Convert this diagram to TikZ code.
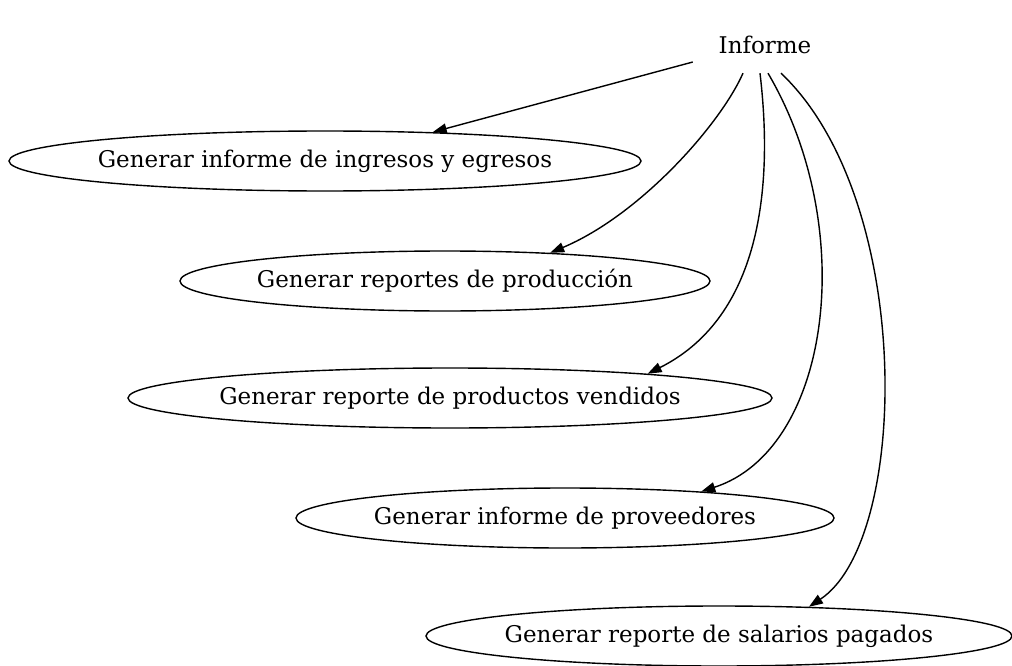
\documentclass[tikz,border=0pt]{standalone}
\usepackage{fontspec}
\setmainfont{DejaVu Serif}
\usetikzlibrary{shapes.geometric,arrows.meta}
\begin{document}
\begin{tikzpicture}[x=1pt,y=1pt,
  every node/.style={font=\fontsize{23}{27}\selectfont},
  task/.style={draw,ellipse,line width=1.4pt,inner xsep=-15pt,inner ysep=0pt,minimum height=60pt},
  top/.style={rectangle,inner sep=0pt,minimum width=144pt,minimum height=56pt},
  edge/.style={draw,line width=1.4pt,-{Triangle[length=14pt,width=10pt]}}]
\useasboundingbox (0,0) rectangle (1012,-666);
\node[top] (inf) at (765,-45) {Informe};
\node[task,minimum width=632pt] (e1) at (325,-161) {Generar informe de ingresos y egresos};
\node[task,minimum width=530pt] (e2) at (445,-281) {Generar reportes de producción};
\node[task,minimum width=644pt] (e3) at (450,-398) {Generar reporte de productos vendidos};
\node[task,minimum width=538pt] (e4) at (565,-518) {Generar informe de proveedores};
\node[task,minimum width=586pt] (e5) at (719,-636) {Generar reporte de salarios pagados};
\path[edge] ([yshift=-17pt]inf.west) -- (e1.15);
\path[edge] ([xshift=-22pt]inf.south) .. controls (720,-125) and (640,-215) .. (e2.15);
\path[edge] ([xshift=-5pt]inf.south) .. controls (775,-200) and (755,-320) .. (e3.7);
\path[edge] ([xshift=3pt]inf.south) .. controls (860,-230) and (830,-450) .. (e4.11);
\path[edge] ([xshift=16pt]inf.south) .. controls (915,-200) and (910,-540) .. (e5.18);
\end{tikzpicture}
\end{document}
